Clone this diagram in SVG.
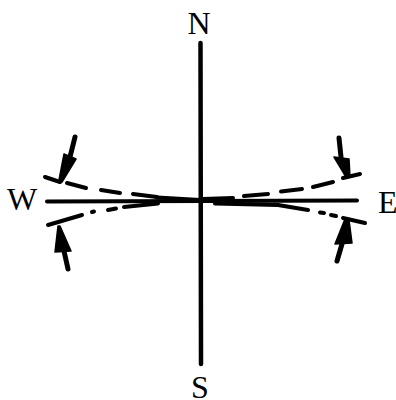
<svg xmlns="http://www.w3.org/2000/svg" width="396" height="400" viewBox="0 0 396 400">
<style>
.lbl{font-family:"Liberation Serif","Times New Roman",serif;font-size:32px;fill:#000}
.ln{stroke:#000;fill:none;stroke-linecap:round}
.head{fill:#000;stroke:#000;stroke-width:1.5;stroke-linejoin:round}
</style>
<rect width="396" height="400" fill="#fff"/>
<g id="axes">
<line class="ln" x1="200.5" y1="43" x2="201" y2="364" stroke-width="4.5"/>
<line class="ln" x1="47" y1="201.5" x2="357" y2="200.5" stroke-width="4"/>
</g>
<g id="connectors">
<g id="west-upper-curve" class="ln" stroke-width="4">
<line x1="45" y1="177" x2="60" y2="182"/>
<line x1="67" y1="183" x2="86" y2="188"/>
<line x1="101" y1="190" x2="120" y2="193"/>
<line x1="133" y1="194" x2="157" y2="197"/>
<line x1="157" y1="197.5" x2="200" y2="200"/>
</g>
<g id="west-lower-curve" class="ln" stroke-width="4">
<line x1="48" y1="225" x2="82" y2="215"/>
<line x1="92" y1="212" x2="94" y2="211.5"/>
<line x1="108" y1="210" x2="116" y2="208.5"/>
<line x1="124" y1="207" x2="158" y2="203.5"/>
</g>
<g id="east-upper-curve" class="ln" stroke-width="4">
<line x1="203" y1="199" x2="233" y2="198"/>
<line x1="244" y1="196" x2="268" y2="194"/>
<line x1="281" y1="191.5" x2="302" y2="189"/>
<line x1="313" y1="187" x2="333" y2="182"/>
<line x1="343" y1="178" x2="360" y2="174"/>
</g>
<g id="east-lower-curve" class="ln" stroke-width="4">
<line x1="215" y1="203.5" x2="278" y2="205"/>
<line x1="278" y1="205" x2="308" y2="210"/>
<line x1="320" y1="212.5" x2="324" y2="213"/>
<line x1="331" y1="215" x2="336" y2="216"/>
<line x1="343" y1="218" x2="365" y2="223"/>
</g>
<g id="arrow-wu">
<line class="ln" x1="75" y1="137" x2="70" y2="157" stroke-width="5"/>
<polygon class="head" points="64,154 76,159 62,182 59,180"/>
</g>
<g id="arrow-wl">
<polygon class="head" points="58,226 60,226 71,251 55,252"/>
<line class="ln" x1="64" y1="251" x2="68" y2="269" stroke-width="5"/>
</g>
<g id="arrow-eu">
<line class="ln" x1="339" y1="138" x2="341" y2="157" stroke-width="5"/>
<polygon class="head" points="334,157 349,159 350,177 346,177"/>
</g>
<g id="arrow-el">
<polygon class="head" points="345,219 349,220 352,243 335,244"/>
<line class="ln" x1="342" y1="244" x2="337" y2="261" stroke-width="5"/>
</g>
</g>
<g id="N"><text class="lbl" x="199" y="34" text-anchor="middle">N</text></g>
<g id="S"><text class="lbl" x="200" y="398" text-anchor="middle">S</text></g>
<g id="W"><text class="lbl" x="7" y="210">W</text></g>
<g id="E"><text class="lbl" x="378" y="213">E</text></g>
</svg>
